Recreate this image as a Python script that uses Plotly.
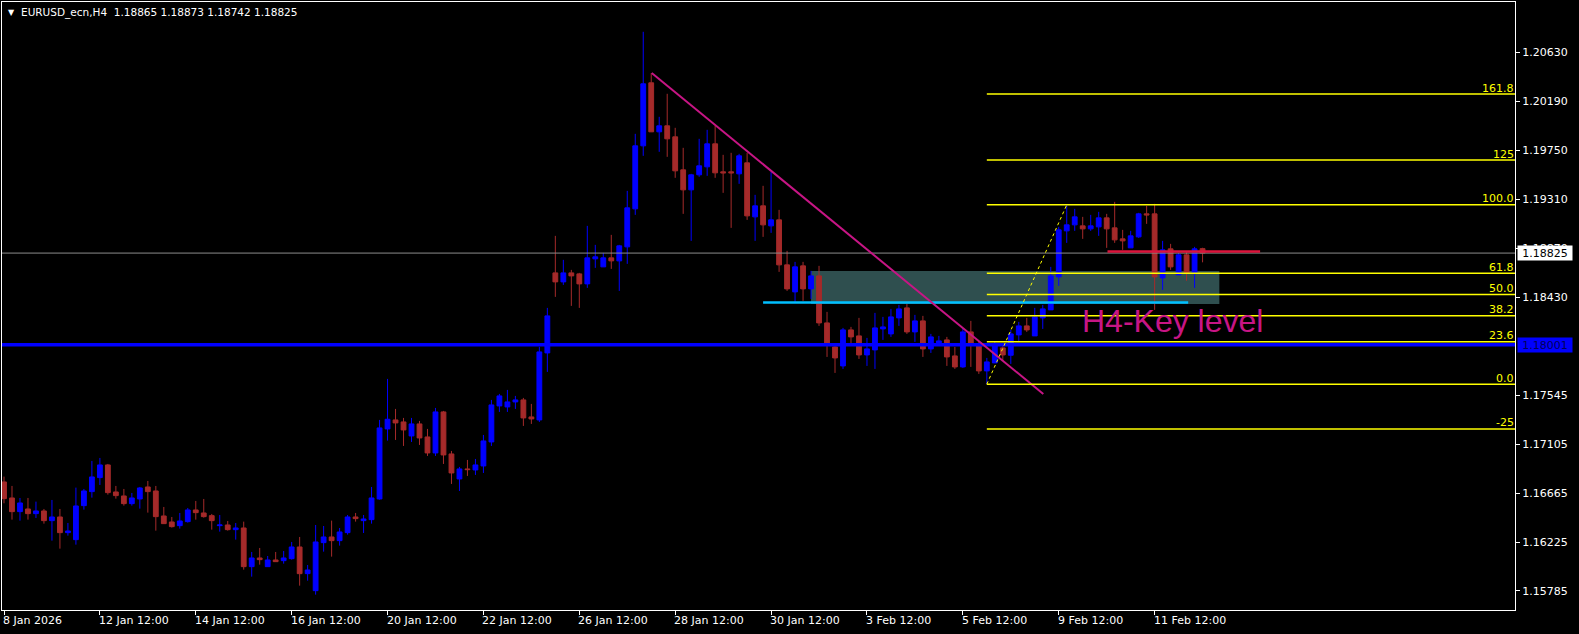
import plotly.graph_objects as go

# ---------------- data (EURUSD H4) ----------------
opens = [1.16766,1.16622,1.16499,1.16523,1.16481,1.16505,1.16418,1.16451,1.16310,1.16247,
         1.16553,1.16679,1.16805,1.16919,1.16676,1.16640,1.16571,1.16613,1.16721,1.16685,
         1.16460,1.16406,1.16373,1.16409,1.16514,1.16487,1.16463,1.16373,1.16379,1.16337,
         1.16352,1.16004,1.16082,1.16004,1.16064,1.16058,1.16076,1.16181,1.15941,1.15788,
         1.16220,1.16271,1.16238,1.16310,1.16451,1.16418,1.16427,1.16613,1.17243,1.17324,
         1.17306,1.17180,1.17288,1.17171,1.17027,1.17396,1.17018,1.16793,1.16883,1.16874,
         1.16910,1.17126,1.17450,1.17441,1.17486,1.17504,1.17351,1.17324,1.17927,1.18647,
         1.18566,1.18647,1.18638,1.18548,1.18773,1.18701,1.18782,1.18755,1.18881,1.19223,
         1.19790,1.20357,1.19916,1.19970,1.19871,1.19574,1.19394,1.19529,1.19601,1.19808,
         1.19556,1.19556,1.19538,1.19637,1.19151,1.19250,1.19070,1.19124,1.18719,1.18476,
         1.18710,1.18503,1.18620,1.18197,1.17981,1.17810,1.18134,1.18080,1.17909,1.17954,
         1.18143,1.18098,1.18242,1.18332,1.18116,1.18215,1.17963,1.18017,1.18044,1.17900,
         1.17801,1.18116,1.18008,1.17765,1.17837,1.17972,1.17906,1.18089,1.18170,1.18080,
         1.18242,1.18314,1.18611,1.19025,1.19079,1.19070,1.19043,1.19061,1.19142,1.19052,
         1.18953,1.18872,1.18971,1.19178,1.19178,1.18602,1.18863,1.18629,1.18809,1.18647,
         1.18865]
highs = [1.16814,1.16730,1.16622,1.16622,1.16589,1.16523,1.16604,1.16523,1.16397,1.16715,
         1.16703,1.16955,1.16982,1.16928,1.16730,1.16703,1.16667,1.16721,1.16775,1.16730,
         1.16541,1.16451,1.16487,1.16532,1.16595,1.16613,1.16478,1.16469,1.16415,1.16397,
         1.16409,1.16136,1.16172,1.16100,1.16136,1.16145,1.16226,1.16271,1.16019,1.16379,
         1.16370,1.16418,1.16352,1.16469,1.16487,1.16469,1.16721,1.17324,1.17693,1.17423,
         1.17342,1.17342,1.17315,1.17243,1.17432,1.17405,1.17045,1.16901,1.16964,1.16973,
         1.17189,1.17504,1.17558,1.17594,1.17540,1.17522,1.17468,1.17981,1.18332,1.18980,
         1.18764,1.18674,1.18647,1.19070,1.18899,1.18827,1.18989,1.18899,1.19385,1.19898,
         1.20816,1.20444,1.20051,1.20258,1.19952,1.19772,1.19538,1.19853,1.19934,1.19970,
         1.19709,1.19727,1.19718,1.19727,1.19349,1.19430,1.19556,1.19214,1.18845,1.18746,
         1.18746,1.18665,1.18710,1.18296,1.18008,1.18152,1.18161,1.18242,1.18062,1.18287,
         1.18251,1.18323,1.18359,1.18368,1.18269,1.18260,1.18098,1.18080,1.18071,1.17981,
         1.18152,1.18215,1.18035,1.17882,1.18026,1.17999,1.18134,1.18206,1.18242,1.18332,
         1.18359,1.18701,1.19061,1.19259,1.19223,1.19151,1.19169,1.19196,1.19178,1.19286,
         1.19034,1.19025,1.19187,1.19250,1.19268,1.18935,1.18908,1.18827,1.18836,1.18881,
         1.18873]
lows = [1.16574,1.16427,1.16418,1.16427,1.16442,1.16391,1.16238,1.16166,1.16283,1.16202,
        1.16517,1.16625,1.16739,1.16652,1.16616,1.16553,1.16553,1.16526,1.16490,1.16328,
        1.16391,1.16355,1.16346,1.16400,1.16427,1.16445,1.16337,1.16319,1.16328,1.16247,
        1.15977,1.15914,1.16022,1.16004,1.16049,1.16031,1.16067,1.15833,1.15878,1.15752,
        1.16139,1.16094,1.16193,1.16292,1.16409,1.16307,1.16391,1.16607,1.17138,1.17144,
        1.17090,1.17126,1.17099,1.17000,1.17000,1.16928,1.16748,1.16685,1.16820,1.16829,
        1.16847,1.17090,1.17396,1.17396,1.17423,1.17270,1.17288,1.17306,1.17756,1.18431,
        1.18539,1.18350,1.18332,1.18512,1.18692,1.18701,1.18683,1.18485,1.18728,1.19169,
        1.19700,1.19916,1.19736,1.19691,1.19502,1.19178,1.18935,1.19511,1.19520,1.19502,
        1.19367,1.19052,1.19448,1.19124,1.18935,1.18971,1.19007,1.18656,1.18485,1.18386,
        1.18395,1.18413,1.18170,1.17891,1.17747,1.17783,1.18008,1.17873,1.17810,1.17783,
        1.18044,1.18071,1.18170,1.18098,1.18026,1.17891,1.17927,1.17999,1.17810,1.17783,
        1.17792,1.17801,1.17738,1.17646,1.17837,1.17855,1.17828,1.18035,1.18116,1.18080,
        1.18143,1.18314,1.18530,1.18917,1.19025,1.18953,1.19025,1.18980,1.18872,1.18917,
        1.18854,1.18872,1.18962,1.19088,1.18314,1.18494,1.18674,1.18629,1.18575,1.18512,
        1.18742]
closes = [1.16616,1.16499,1.16577,1.16481,1.16505,1.16418,1.16451,1.16310,1.16325,1.16550,
          1.16685,1.16811,1.16919,1.16670,1.16643,1.16571,1.16622,1.16712,1.16679,1.16454,
          1.16391,1.16364,1.16415,1.16514,1.16490,1.16454,1.16418,1.16379,1.16337,1.16352,
          1.16004,1.16082,1.16067,1.16064,1.16049,1.16082,1.16181,1.15941,1.15974,1.16226,
          1.16271,1.16238,1.16316,1.16451,1.16436,1.16433,1.16622,1.17252,1.17330,1.17297,
          1.17234,1.17288,1.17162,1.17027,1.17396,1.17009,1.16847,1.16883,1.16877,1.16919,
          1.17135,1.17459,1.17540,1.17486,1.17504,1.17342,1.17333,1.17936,1.18260,1.18566,
          1.18647,1.18620,1.18548,1.18782,1.18791,1.18782,1.18755,1.18890,1.19232,1.19790,
          1.20348,1.19916,1.19970,1.19853,1.19565,1.19394,1.19529,1.19610,1.19808,1.19547,
          1.19547,1.19547,1.19700,1.19160,1.19250,1.19079,1.19124,1.18719,1.18503,1.18701,
          1.18503,1.18620,1.18197,1.18008,1.17882,1.18134,1.18071,1.17909,1.17963,1.18152,
          1.18161,1.18251,1.18323,1.18116,1.18215,1.17963,1.18071,1.18035,1.17891,1.17801,
          1.18116,1.18008,1.17765,1.17846,1.17999,1.17909,1.18098,1.18170,1.18134,1.18251,
          1.18323,1.18620,1.19034,1.19079,1.19151,1.19043,1.19070,1.19142,1.19043,1.18944,
          1.18935,1.18980,1.19178,1.19169,1.18611,1.18854,1.18701,1.18809,1.18647,1.18863,
          1.18825]
bar_index = list(range(len(opens)))

x_tick_bars = [0, 12, 24, 36, 48, 60, 72, 84, 96, 108, 120, 132, 144]
x_tick_labels = ["8 Jan 2026", "12 Jan 12:00", "14 Jan 12:00", "16 Jan 12:00", "20 Jan 12:00",
                 "22 Jan 12:00", "26 Jan 12:00", "28 Jan 12:00", "30 Jan 12:00", "3 Feb 12:00",
                 "5 Feb 12:00", "9 Feb 12:00", "11 Feb 12:00"]
y_tick_values = [1.20630, 1.20190, 1.19750, 1.19310, 1.18870, 1.18430,
                 1.17545, 1.17105, 1.16665, 1.16225, 1.15785]

symbol_title = "EURUSD_ecn,H4"
bid_price = 1.18825
key_level = 1.18001

fib_start_bar, fib_end_bar = 123, 133
fib_low, fib_high = 1.17646, 1.19259
fib_levels = [161.8, 125, 100.0, 61.8, 50.0, 38.2, 23.6, 0.0, -25]
fib_labels = ["161.8", "125", "100.0", "61.8", "50.0", "38.2", "23.6", "0.0", "-25"]

trend_bars = [81.06, 130.07]
trend_prices = [1.20445, 1.17558]

zone_bars = [101.0, 152.1]
zone_prices = [1.18368, 1.18665]
cyan_bars = [95.0, 148.2]
cyan_price = 1.18380
red_bars = [138.1, 157.2]
red_price = 1.18839

x_range = [-0.25, 189.1]
y_range = [1.15614, 1.21084]

BULL = "#0000FF"
BEAR = "#A52A2A"
FONT = "DejaVu Sans"

fig = go.Figure()
fig.add_trace(go.Candlestick(
    x=bar_index, open=opens, high=highs, low=lows, close=closes,
    increasing=dict(line=dict(color=BULL, width=1), fillcolor=BULL),
    decreasing=dict(line=dict(color=BEAR, width=1), fillcolor=BEAR),
    whiskerwidth=0, hoverinfo="skip", showlegend=False))

shapes = []
shapes.append(dict(type="rect", xref="x", yref="y", x0=zone_bars[0], x1=zone_bars[1],
                   y0=zone_prices[0], y1=zone_prices[1], fillcolor="#2F4F4F",
                   line=dict(width=0), layer="below"))
shapes.append(dict(type="line", xref="paper", yref="y", x0=0, x1=1, y0=bid_price, y1=bid_price,
                   line=dict(color="#8C8C8C", width=1)))
shapes.append(dict(type="line", xref="paper", yref="y", x0=0, x1=1, y0=key_level, y1=key_level,
                   line=dict(color="#0000FF", width=3.5)))
shapes.append(dict(type="line", xref="x", yref="y", x0=cyan_bars[0], x1=cyan_bars[1],
                   y0=cyan_price, y1=cyan_price, line=dict(color="#00BFFF", width=2.5)))
shapes.append(dict(type="line", xref="x", yref="y", x0=red_bars[0], x1=red_bars[1],
                   y0=red_price, y1=red_price, line=dict(color="#DC143C", width=2.5)))
shapes.append(dict(type="line", xref="x", yref="y", x0=trend_bars[0], x1=trend_bars[1],
                   y0=trend_prices[0], y1=trend_prices[1], line=dict(color="#C71585", width=2)))
fib_range = fib_high - fib_low
for lv in fib_levels:
    p = fib_low + fib_range * lv / 100.0
    shapes.append(dict(type="line", xref="x", yref="y", x0=fib_start_bar, x1=x_range[1],
                       y0=p, y1=p, line=dict(color="#FFFF00", width=1.5)))
shapes.append(dict(type="line", xref="x", yref="y", x0=fib_start_bar, x1=fib_end_bar,
                   y0=fib_low, y1=fib_high, line=dict(color="#FFFF00", width=1, dash="3px,3px")))

annotations = []
for lv, lab in zip(fib_levels, fib_labels):
    p = fib_low + fib_range * lv / 100.0
    annotations.append(dict(xref="paper", yref="y", x=1, y=p, xanchor="right", yanchor="bottom",
                            xshift=1, yshift=-2.5, text=lab, showarrow=False,
                            font=dict(family=FONT, size=11, color="#FFFF00")))
for b, lab in zip(x_tick_bars, x_tick_labels):
    annotations.append(dict(xref="x", yref="paper", x=b, y=0, xanchor="left", yanchor="middle",
                            xshift=-3, yshift=-10, text=lab, showarrow=False,
                            font=dict(family=FONT, size=11, color="#FFFFFF")))
annotations.append(dict(xref="paper", yref="paper", x=0, y=1, xanchor="left", yanchor="middle",
                        xshift=17, yshift=-10.7,
                        text=symbol_title + "\u00a0\u00a0" + " ".join(
                            f"{v:.5f}" for v in (opens[-1], highs[-1], lows[-1], closes[-1])),
                        showarrow=False, font=dict(family=FONT, size=10.5, color="#FFFFFF")))
annotations.append(dict(xref="paper", yref="paper", x=0, y=1, xanchor="center", yanchor="middle",
                        xshift=9, yshift=-10.5, text="\u25BC", showarrow=False,
                        font=dict(family=FONT, size=8, color="#FFFFFF")))
annotations.append(dict(xref="paper", yref="y", x=1, y=bid_price, xanchor="left", yanchor="middle",
                        xshift=1.5, text=f"{bid_price:.5f}", showarrow=False, bgcolor="#FFFFFF",
                        width=52, height=12, borderpad=1,
                        font=dict(family=FONT, size=11, color="#000000")))
annotations.append(dict(xref="paper", yref="y", x=1, y=key_level, xanchor="left", yanchor="middle",
                        xshift=1.5, text=f"{key_level:.5f}", showarrow=False, bgcolor="#0000FF",
                        width=52, height=12, borderpad=1,
                        font=dict(family=FONT, size=11, color="#00005A")))
annotations.append(dict(xref="x", yref="y", x=134.6, y=1.18213, xanchor="left", yanchor="middle",
                        text="H4-Key level", showarrow=False,
                        font=dict(family="Liberation Sans", size=32, color="#C71585")))

fig.update_layout(
    width=1579, height=634,
    margin=dict(l=2, r=64, t=2, b=24),
    paper_bgcolor="#000000", plot_bgcolor="#000000",
    showlegend=False, hovermode=False, boxgap=0.4, boxgroupgap=0,
    shapes=shapes, annotations=annotations,
    xaxis=dict(range=x_range, showgrid=False, zeroline=False, showline=True, linecolor="#FFFFFF",
               linewidth=1, mirror=True, tickvals=x_tick_bars, ticks="outside", ticklen=4,
               tickcolor="#FFFFFF", showticklabels=False, rangeslider=dict(visible=False)),
    yaxis=dict(range=y_range, side="right", showgrid=False, zeroline=False, showline=True,
               linecolor="#FFFFFF", linewidth=1, mirror=True, tickvals=y_tick_values,
               ticktext=[f"{v:.5f}" for v in y_tick_values], ticks="outside", ticklen=4,
               tickcolor="#FFFFFF", tickfont=dict(family=FONT, size=11, color="#FFFFFF")),
)

fig.write_html("out.html", config={"displayModeBar": False},
               post_script="document.body.style.margin='0px';"
               "document.body.style.background='#000000';document.body.style.overflow='hidden';")
